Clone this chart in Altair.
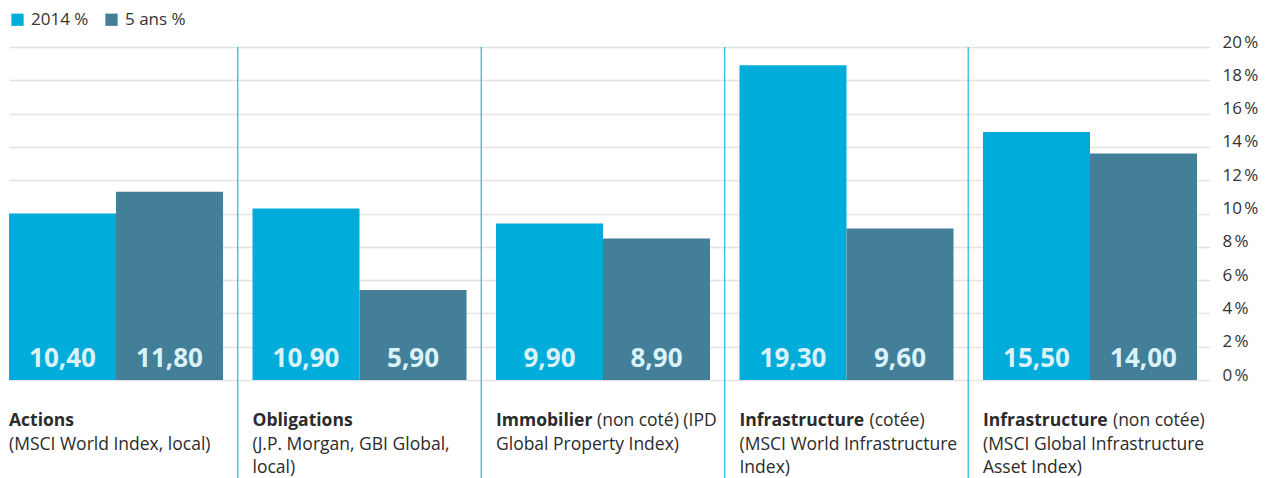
import altair as alt
import pandas as pd

# ---- data ----
categories = ["Actions", "Obligations", "Immobilier", "Infrastructure cotée", "Infrastructure non cotée"]
series = ["2014 %", "5 ans %"]
bar_2014 = [10.0, 10.3, 9.4, 18.9, 14.9]      # bar heights as drawn
bar_5ans = [11.3, 5.4, 8.5, 9.1, 13.6]
label_2014 = [10.40, 10.90, 9.90, 19.30, 15.50]  # printed values
label_5ans = [11.80, 5.90, 8.90, 9.60, 14.00]
bold_words = ["Actions", "Obligations", "Immobilier", "Infrastructure", "Infrastructure"]
first_line_rest = ["", "", "(non coté) (IPD", "(cotée)", "(non cotée)"]
other_lines = [
    "(MSCI World Index, local)",
    "(J.P. Morgan, GBI Global,\nlocal)",
    "Global Property Index)",
    "(MSCI World Infrastructure\nIndex)",
    "(MSCI Global Infrastructure\nAsset Index)",
]
y_ticks = [0, 2, 4, 6, 8, 10, 12, 14, 16, 18, 20]
colors = ["#00acd9", "#437f98"]

FONT = "Open Sans"
TEXT_COLOR = "#2b2b2b"

rows = []
for i, c in enumerate(categories):
    rows.append({"cat": c, "series": series[0], "value": bar_2014[i], "label": label_2014[i]})
    rows.append({"cat": c, "series": series[1], "value": bar_5ans[i], "label": label_5ans[i]})
bars_df = pd.DataFrame(rows)
text_df = pd.DataFrame({"cat": categories, "bold": bold_words, "rest": first_line_rest, "more": other_lines})
sep_df = pd.DataFrame({"cat": categories[1:]})

x_scale = alt.Scale(domain=categories, paddingInner=0.121, paddingOuter=0.0267, align=0)
x_mid = alt.X("cat:N", scale=x_scale, axis=None)
x_start = alt.X("cat:N", scale=x_scale, axis=None, bandPosition=0)
x_off = alt.XOffset("series:N", scale=alt.Scale(domain=series, paddingInner=0, paddingOuter=0))

bars = alt.Chart(bars_df).mark_bar().encode(
    x=x_mid,
    xOffset=x_off,
    y=alt.Y(
        "value:Q",
        title=None,
        scale=alt.Scale(domain=[0, 20], nice=False),
        axis=alt.Axis(
            orient="right", values=y_ticks, tickCount=11, grid=True, domain=False, ticks=False,
            labelExpr="datum.value + '\u202f%'", labelPadding=12, labelFont=FONT,
            labelFontSize=17, labelColor="#333333", labelBaseline="alphabetic",
            labelFlush=False, labelOverlap=False, gridColor="#e4e4e4", gridWidth=1.5,
        ),
    ),
    color=alt.Color(
        "series:N",
        scale=alt.Scale(domain=series, range=colors),
        legend=alt.Legend(
            orient="none", legendX=0, legendY=-36, direction="horizontal", title=None,
            symbolType="square", symbolSize=150, symbolStrokeWidth=0, labelFont=FONT,
            labelFontSize=17, labelColor="#333333", columnPadding=14, labelOffset=5,
            padding=0,
        ),
    ),
)

bar_labels = alt.Chart(bars_df).transform_calculate(
    lab="replace(format(datum.label, '.2f'), '.', ',')"
).mark_text(
    font=FONT, fontSize=26, fontWeight="bold", color="#dcf2fa",
    baseline="alphabetic", align="center", dy=-13,
).encode(x=x_mid, xOffset=x_off, y=alt.datum(0), text="lab:N")

separators = alt.Chart(sep_df).mark_rule(
    color="#22b6e3", strokeWidth=1.2, xOffset=-14.75
).encode(x=x_start, y=alt.datum(20), y2=alt.value(431))

bold_text = alt.Chart(text_df).mark_text(
    font=FONT, fontSize=17.5, fontWeight="bold", color=TEXT_COLOR,
    align="left", baseline="alphabetic",
).encode(x=x_start, y=alt.value(379), text="bold:N")

rest_immo = alt.Chart(text_df).transform_filter(
    "datum.bold == 'Immobilier'"
).mark_text(
    font=FONT, fontSize=17.5, color=TEXT_COLOR, align="left", baseline="alphabetic", dx=101,
).encode(x=x_start, y=alt.value(379), text="rest:N")

rest_infra = alt.Chart(text_df).transform_filter(
    "datum.bold == 'Infrastructure'"
).mark_text(
    font=FONT, fontSize=17.5, color=TEXT_COLOR, align="left", baseline="alphabetic", dx=130,
).encode(x=x_start, y=alt.value(379), text="rest:N")

more_text = alt.Chart(text_df).mark_text(
    font=FONT, fontSize=17.5, color=TEXT_COLOR, align="left", baseline="alphabetic",
    lineBreak="\n", lineHeight=23,
).encode(x=x_start, y=alt.value(403), text="more:N")

chart = alt.layer(
    bars, bar_labels, separators, bold_text, rest_immo, rest_infra, more_text
).properties(
    width=1201,
    height=333,
    autosize=alt.AutoSizeParams(type="none"),
    padding={"left": 1, "top": 39, "right": 49, "bottom": 98},
    background="white",
).configure_view(stroke=None)

chart.save("out.html", embed_options={"renderer": "svg", "actions": False})
